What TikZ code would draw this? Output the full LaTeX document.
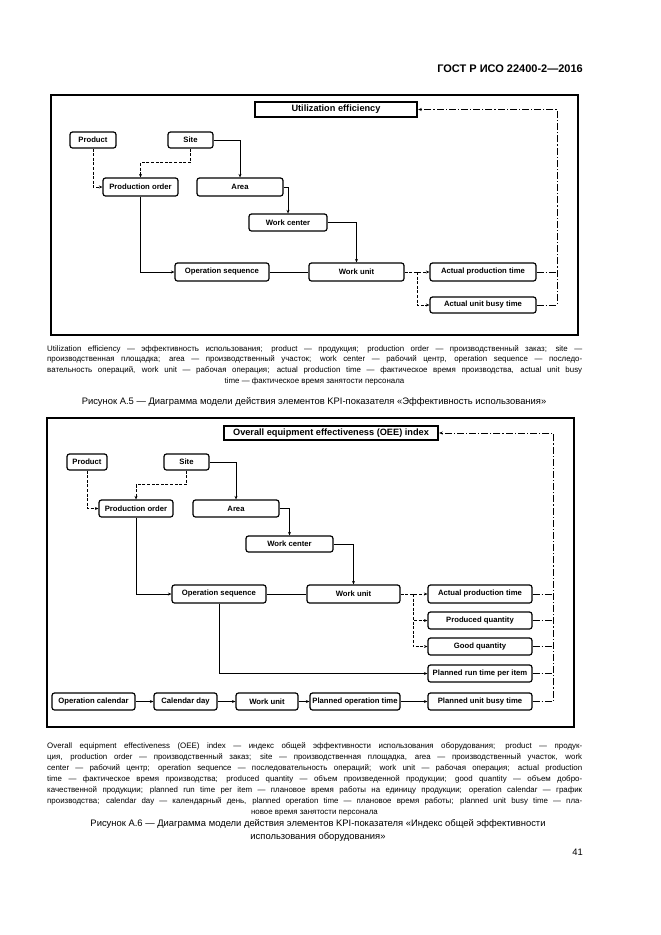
\documentclass[tikz,border=0pt]{standalone}
\usepackage{fontspec}
\setmainfont{Liberation Sans}
\usetikzlibrary{arrows.meta}
\tikzset{
  box/.style={draw, line width=1.2pt, rounded corners=2.5pt, inner sep=0pt, font=\fontsize{7.7}{8}\selectfont\bfseries},
  ttl/.style={draw, line width=2.4pt, inner sep=0pt, font=\fontsize{9.2}{10}\selectfont\bfseries},
  con/.style={line width=1pt},
  arr/.style={-{Stealth[length=3.5pt,width=3pt]}},
  dsh/.style={dash pattern=on 3pt off 1.6pt},
  ddot/.style={dash pattern=on 7pt off 2pt on 1.2pt off 2pt},
  frm/.style={line width=1.3pt},
  captxt/.style={anchor=base west, inner sep=0pt, font=\fontsize{7.9}{9}\selectfont},
  capctr/.style={anchor=base, inner sep=0pt, font=\fontsize{7.9}{9}\selectfont},
  figcap/.style={anchor=base, inner sep=0pt, font=\fontsize{9.4}{11}\selectfont},
}
\begin{document}
\begin{tikzpicture}[x=1pt,y=-1pt]
\useasboundingbox[fill=white] (0,0) rectangle (661,935);
% header
\node[anchor=base east, inner sep=0pt, font=\fontsize{11}{13}\selectfont\bfseries] (hdr) at (583,72) {ГОСТ Р ИСО 22400-2—2016};

% ===== Figure A.5 =====
\draw[frm] (51,95) rectangle (578,335);
\node[ttl, minimum width=162pt, minimum height=15pt] (ue) at (336,109.5) {Utilization efficiency};
\node[box, minimum width=46pt, minimum height=16pt] (prod1) at (93,140) {Product};
\node[box, minimum width=45pt, minimum height=16pt] (site1) at (190.5,140) {Site};
\node[box, minimum width=75pt, minimum height=18pt] (po1) at (140.5,187) {Production order};
\node[box, minimum width=86pt, minimum height=18pt] (area1) at (240,187) {Area};
\node[box, minimum width=78pt, minimum height=17pt] (wc1) at (288,222.5) {Work center};
\node[box, minimum width=94pt, minimum height=18pt] (os1) at (222,272) {Operation sequence};
\node[box, minimum width=95pt, minimum height=18pt] (wu1) at (356.5,272) {Work unit};
\node[box, minimum width=106pt, minimum height=18pt] (apt1) at (483,272) {Actual production time};
\node[box, minimum width=106pt, minimum height=16pt] (aubt1) at (483,305) {Actual unit busy time};

\draw[con,dsh,arr] (prod1.south) |- (po1.west);
\draw[con,dsh,arr] (site1.south) -- ++(0,14) -| (po1.north);
\draw[con,arr] (site1.east) -| (area1.north);
\draw[con,arr] (area1.east) -| (wc1.north);
\draw[con,arr] (wc1.east) -| (wu1.north);
\draw[con,arr] (po1.south) |- (os1.west);
\draw[con] (os1.east) -- (wu1.west);
\draw[con,dsh,arr] (wu1.east) -- (apt1.west);
\coordinate (b1) at (417,272);
\draw[con,dsh,arr] (b1) |- (aubt1.west);
\coordinate (r1) at (557,0);
\draw[con,ddot] (apt1.east) -- (apt1.east -| r1);
\draw[con,ddot,arr] (aubt1.east) -| (ue.east -| r1) -- (ue.east);

\node[captxt] (c1a) at (47,351) {\makebox[535pt][s]{Utilization efficiency — эффективность использования; product — продукция; production order — производственный заказ; site —}};
\node[captxt] (c1b) at (47,361.7) {\makebox[535pt][s]{производственная площадка; area — производственный участок; work center — рабочий центр, operation sequence — последо-}};
\node[captxt] (c1c) at (47,372.4) {\makebox[535pt][s]{вательность операций, work unit — рабочая операция; actual production time — фактическое время производства, actual unit busy}};
\node[capctr] (c1d) at (314.5,383.1) {time — фактическое время занятости персонала};
\node[figcap] (f1) at (314,404.5) {Рисунок А.5 — Диаграмма модели действия элементов KPI-показателя «Эффективность использования»};

% ===== Figure A.6 =====
\draw[frm] (47,418) rectangle (574,727);
\node[ttl, minimum width=214pt, minimum height=14pt] (oee) at (331,433) {Overall equipment effectiveness (OEE) index};
\node[box, minimum width=40pt, minimum height=16pt] (prod2) at (87,462) {Product};
\node[box, minimum width=45pt, minimum height=16pt] (site2) at (186.5,462) {Site};
\node[box, minimum width=74pt, minimum height=17pt] (po2) at (136,508.5) {Production order};
\node[box, minimum width=86pt, minimum height=17pt] (area2) at (236,508.5) {Area};
\node[box, minimum width=87pt, minimum height=16pt] (wc2) at (289.5,544) {Work center};
\node[box, minimum width=94pt, minimum height=18pt] (os2) at (219,594) {Operation sequence};
\node[box, minimum width=93pt, minimum height=18pt] (wu2) at (353.5,594) {Work unit};
\node[box, minimum width=104pt, minimum height=18pt] (apt2) at (480,594) {Actual production time};
\node[box, minimum width=104pt, minimum height=17pt] (pq2) at (480,620.5) {Produced quantity};
\node[box, minimum width=104pt, minimum height=17pt] (gq2) at (480,646.5) {Good quantity};
\node[box, minimum width=104pt, minimum height=17pt] (prt2) at (480,673.5) {Planned run time per item};
\node[box, minimum width=104pt, minimum height=17pt] (pubt2) at (480,701.5) {Planned unit busy time};
\node[box, minimum width=83pt, minimum height=17pt] (oc2) at (93.5,701.5) {Operation calendar};
\node[box, minimum width=63pt, minimum height=17pt] (cd2) at (185.5,701.5) {Calendar day};
\node[box, minimum width=62pt, minimum height=17pt] (wu3) at (267,701.5) {Work unit};
\node[box, minimum width=90pt, minimum height=17pt] (pot2) at (355,701.5) {Planned operation time};

\draw[con,dsh,arr] (prod2.south) |- (po2.west);
\draw[con,dsh,arr] (site2.south) -- ++(0,14) -| (po2.north);
\draw[con,arr] (site2.east) -| (area2.north);
\draw[con,arr] (area2.east) -| (wc2.north);
\draw[con,arr] (wc2.east) -| (wu2.north);
\draw[con,arr] (po2.south) |- (os2.west);
\draw[con] (os2.east) -- (wu2.west);
\draw[con,arr] (os2.south) |- (prt2.west);
\draw[con,dsh,arr] (wu2.east) -- (apt2.west);
\coordinate (b2) at (413,594);
\draw[con,dsh,arr] (b2) |- (pq2.west);
\draw[con,dsh,arr] (b2) |- (gq2.west);
\coordinate (r2) at (553,0);
\foreach \n in {apt2,pq2,gq2,prt2} \draw[con,ddot] (\n.east) -- (\n.east -| r2);
\draw[con,ddot,arr] (pubt2.east) -| (oee.east -| r2) -- (oee.east);
\draw[con,arr] (oc2) -- (cd2);
\draw[con,arr] (cd2) -- (wu3);
\draw[con,arr] (wu3) -- (pot2);
\draw[con,arr] (pot2) -- (pubt2);

\node[captxt] (c2a) at (47,748) {\makebox[535pt][s]{Overall equipment effectiveness (OEE) index — индекс общей эффективности использования оборудования; product — продук-}};
\node[captxt] (c2b) at (47,759) {\makebox[535pt][s]{ция, production order — производственный заказ; site — производственная площадка, area — производственный участок, work}};
\node[captxt] (c2c) at (47,770) {\makebox[535pt][s]{center — рабочий центр; operation sequence — последовательность операций; work unit — рабочая операция; actual production}};
\node[captxt] (c2d) at (47,781) {\makebox[535pt][s]{time — фактическое время производства; produced quantity — объем произведенной продукции; good quantity — объем добро-}};
\node[captxt] (c2e) at (47,792) {\makebox[535pt][s]{качественной продукции; planned run time per item — плановое время работы на единицу продукции; operation calendar — график}};
\node[captxt] (c2f) at (47,803) {\makebox[535pt][s]{производства; calendar day — календарный день, planned operation time — плановое время работы; planned unit busy time — пла-}};
\node[capctr] (c2g) at (314.5,814) {новое время занятости персонала};
\node[figcap] (f2a) at (318,826.5) {Рисунок А.6 — Диаграмма модели действия элементов KPI-показателя «Индекс общей эффективности};
\node[figcap] (f2b) at (318,839.5) {использования оборудования»};
\node[anchor=base east, inner sep=0pt, font=\fontsize{9.4}{11}\selectfont] (pg) at (583,855) {41};
\end{tikzpicture}
\end{document}
